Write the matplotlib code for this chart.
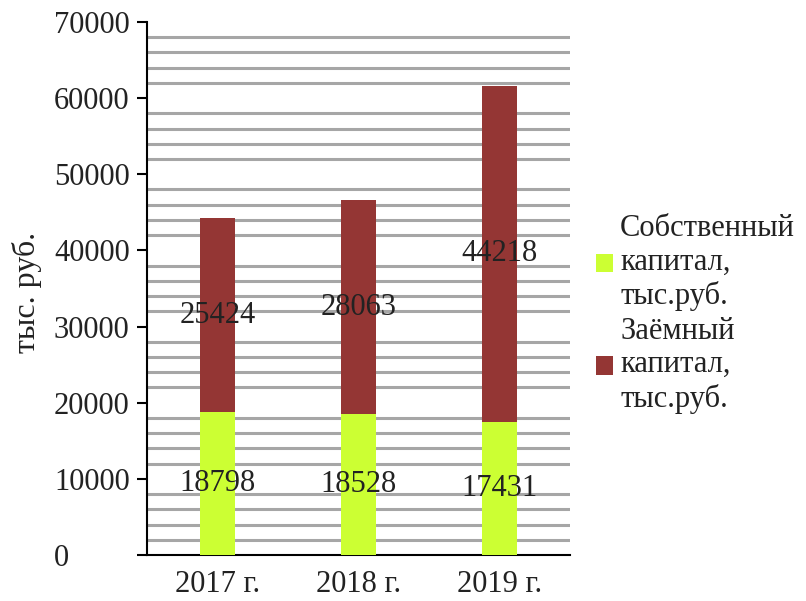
import matplotlib.pyplot as plt
import numpy as np

years = ['2017 г.', '2018 г.', '2019 г.']
own_capital = [18798, 18528, 17431]
borrowed_capital = [25424, 28063, 44218]
series_names = ['Собственный\nкапитал,\nтыс.руб.', 'Заёмный\nкапитал,\nтыс.руб.']

plt.rcParams['font.family'] = ['Liberation Serif', 'DejaVu Serif']

fig = plt.figure(figsize=(8.06, 6.01), dpi=100)
ax = fig.add_axes([0.1824, 0.0765, 0.5248, 0.887])

x = np.arange(len(years))
w = 0.25
ax.bar(x, own_capital, w, color='#ccff33', zorder=3, label=series_names[0])
ax.bar(x, borrowed_capital, w, bottom=own_capital, color='#943634', zorder=3,
       label=series_names[1])

# подписи значений в середине сегментов
for i in range(len(years)):
    ax.text(x[i], own_capital[i] / 2, str(own_capital[i]), ha='center', va='center',
            fontsize=22, color='#222222', zorder=4)
    ax.text(x[i], own_capital[i] + borrowed_capital[i] / 2, str(borrowed_capital[i]),
            ha='center', va='center', fontsize=22, color='#222222', zorder=4)

ax.set_xlim(-0.5, 2.5)
ax.set_ylim(0, 70000)
ax.set_yticks(np.arange(0, 70001, 10000))
grid_vals = [v for v in range(2000, 70000, 2000) if v % 10000 != 0]
for v in grid_vals:
    ax.axhline(v, color='#a6a6a6', lw=2.2, zorder=1)

ax.set_xticks(x)
ax.set_xticklabels(years, fontsize=22, color='#222222')
ax.tick_params(axis='x', length=0, pad=11)
ax.tick_params(axis='y', length=7, width=1.5, labelsize=22, labelcolor='#222222', pad=60)
for lab in ax.get_yticklabels():
    lab.set_horizontalalignment('left')

ax.spines['top'].set_visible(False)
ax.spines['right'].set_visible(False)
ax.spines['left'].set_linewidth(1.5)
ax.spines['bottom'].set_linewidth(1.5)

fig.text(0.033, 0.514, 'тыс. руб.', rotation=90, ha='center', va='center', fontsize=23,
         color='#222222')

leg = ax.legend(loc='center left', bbox_to_anchor=(1.0615, 0.452), frameon=False, fontsize=22,
                handlelength=0.56, handleheight=0.56, handletextpad=0.23, labelspacing=0.17,
                borderaxespad=0, borderpad=0)
for t in leg.get_texts():
    t.set_color('#222222')

fig.savefig('out.png', dpi=100)
